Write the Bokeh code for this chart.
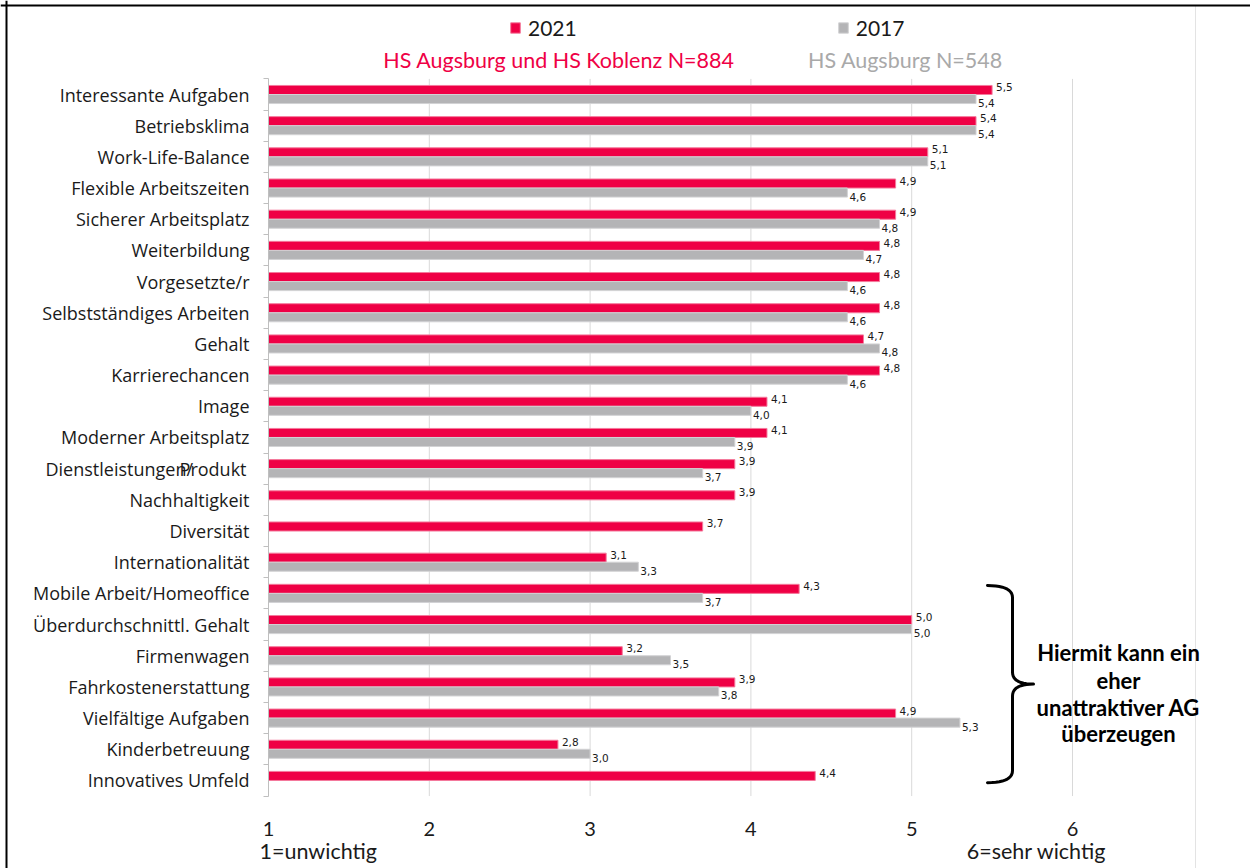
import numpy as np
from bokeh.plotting import figure
from bokeh.models import (Range1d, LinearAxis, FixedTicker, ColumnDataSource,
                          Legend, LegendItem, Span)
from bokeh.core.properties import value
from bokeh.embed import file_html
from bokeh.resources import INLINE

# ---- data -------------------------------------------------------------
categories = [
    "Interessante Aufgaben", "Betriebsklima", "Work-Life-Balance",
    "Flexible Arbeitszeiten", "Sicherer Arbeitsplatz", "Weiterbildung",
    "Vorgesetzte/r", "Selbstständiges Arbeiten", "Gehalt", "Karrierechancen",
    "Image", "Moderner Arbeitsplatz", "Dienstleistungen/Produkt",
    "Nachhaltigkeit", "Diversität", "Internationalität",
    "Mobile Arbeit/Homeoffice", "Überdurchschnittl. Gehalt", "Firmenwagen",
    "Fahrkostenerstattung", "Vielfältige Aufgaben", "Kinderbetreuung",
    "Innovatives Umfeld",
]
values_2021 = [5.5, 5.4, 5.1, 4.9, 4.9, 4.8, 4.8, 4.8, 4.7, 4.8, 4.1, 4.1,
               3.9, 3.9, 3.7, 3.1, 4.3, 5.0, 3.2, 3.9, 4.9, 2.8, 4.4]
values_2017 = [5.4, 5.4, 5.1, 4.6, 4.8, 4.7, 4.6, 4.6, 4.8, 4.6, 4.0, 3.9,
               3.7, None, None, 3.3, 3.7, 5.0, 3.5, 3.8, 5.3, 3.0, None]
tick_values = [1, 2, 3, 4, 5, 6]
series_labels = ["2021", "2017"]
subtitle_2021 = "HS Augsburg und HS Koblenz N=884"
subtitle_2017 = "HS Augsburg N=548"
scale_low = "1=unwichtig"
scale_high = "6=sehr wichtig"
note_lines = ["Hiermit kann ein", "eher", "unattraktiver AG", "überzeugen"]
bracket_first = "Mobile Arbeit/Homeoffice"
bracket_last = "Innovatives Umfeld"

# ---- styling ----------------------------------------------------------
RED = "#EF0045"
RED_EDGE = "#F47A9C"
GREY = "#B4B4B6"
GREY_EDGE = "#D2D2D4"
GRID = "#D9D9D9"
TXT = "#1A1A1A"
CAT_FONT_SIZE = "18px"
W, H = 1250, 868

# page layout: x value 1 sits 268 px from the left, one unit is 160.8 px;
# the first category row is centred 94 px from the top, rows are 31.18 px apart
X_ORIGIN_PX, X_UNIT_PX = 268.0, 160.8
Y_ORIGIN_PX, Y_UNIT_PX = 94.0, 31.18


def xd(px):
    return 1 + (px - X_ORIGIN_PX) / X_UNIT_PX


def yd(px):
    return (px - Y_ORIGIN_PX) / Y_UNIT_PX


n = len(categories)
idx = np.arange(n)
BAR_H = 0.29

p = figure(width=W, height=H,
           x_range=Range1d(xd(0), xd(W)), y_range=Range1d(yd(H), yd(0)),
           x_axis_type=None, y_axis_type=None,
           output_backend="svg", toolbar_location=None, min_border=0)
p.outline_line_color = None
p.background_fill_color = "white"
p.border_fill_color = "white"

# light page separator on the right (behind everything else)
p.segment(x0=[xd(1195)], y0=[yd(5)], x1=[xd(1195)], y1=[yd(H)],
          line_color="#E3E3E3", line_width=1)

# vertical grid lines, limited to the category block
p.segment(x0=tick_values, y0=-0.5, x1=tick_values, y1=n - 0.5,
          line_color=GRID, line_width=1)

# bars
src21 = ColumnDataSource(dict(y=(idx - BAR_H / 2).tolist(), v=values_2021,
                              lab=[f"{v:.1f}".replace(".", ",") for v in values_2021]))
keep = [i for i, v in enumerate(values_2017) if v is not None]
src17 = ColumnDataSource(dict(y=[i + BAR_H / 2 for i in keep],
                              v=[values_2017[i] for i in keep],
                              lab=[f"{values_2017[i]:.1f}".replace(".", ",") for i in keep]))

r21 = p.hbar(y="y", left=1, right="v", height=BAR_H, source=src21,
             fill_color=RED, line_color=RED_EDGE, line_width=1)
r17 = p.hbar(y="y", left=1, right="v", height=BAR_H, source=src17,
             fill_color=GREY, line_color=GREY_EDGE, line_width=1)

# value labels
p.text(x="v", y="y", text="lab", source=src21, x_offset=4, y_offset=-3,
       text_font=value("DejaVu Sans"), text_font_size="10.5px",
       text_color=TXT, text_align="left", text_baseline="middle")
p.text(x="v", y="y", text="lab", source=src17, x_offset=2, y_offset=4,
       text_font=value("DejaVu Sans"), text_font_size="10.5px",
       text_color=TXT, text_align="left", text_baseline="middle")

# category axis on the left
special = categories.index("Dienstleistungen/Produkt")
overrides = {int(i): (c if i != special else "") for i, c in enumerate(categories)}
yaxis = LinearAxis(fixed_location=1,
                   ticker=FixedTicker(ticks=[int(i) for i in idx],
                                      minor_ticks=[float(i) - 0.5 for i in range(n + 1)]),
                   major_label_overrides=overrides, bounds=(-0.5, n - 0.5))
yaxis.axis_line_color = "#BFBFBF"
yaxis.major_tick_line_color = None
yaxis.minor_tick_line_color = "#BFBFBF"
yaxis.minor_tick_in = 0
yaxis.minor_tick_out = 5
yaxis.major_label_standoff = 13
yaxis.major_label_text_font = "Open Sans"
yaxis.major_label_text_font_size = CAT_FONT_SIZE
yaxis.major_label_text_color = TXT
p.add_layout(yaxis, "left")

# the two-line label of the product row, drawn slightly overlapped
p.text(x=[1], y=[special], text=["Dienstleistungen/"], x_offset=45 - X_ORIGIN_PX,
       text_font=value("Open Sans"), text_font_size=CAT_FONT_SIZE, text_color=TXT,
       text_align="left", text_baseline="middle")
p.text(x=[1], y=[special], text=["Produkt"], x_offset=246 - X_ORIGIN_PX,
       text_font=value("Open Sans"), text_font_size=CAT_FONT_SIZE, text_color=TXT,
       text_align="right", text_baseline="middle")

# value axis at the bottom
xaxis = LinearAxis(fixed_location=n - 0.5, ticker=FixedTicker(ticks=tick_values))
xaxis.axis_line_color = None
xaxis.major_tick_line_color = None
xaxis.minor_tick_line_color = None
xaxis.major_label_standoff = 20
xaxis.major_label_text_font = "Lato"
xaxis.major_label_text_font_size = "20px"
xaxis.major_label_text_color = TXT
p.add_layout(xaxis, "below")

# scale meaning under the axis
p.text(x=[tick_values[0]], y=[yd(850)], text=[scale_low], x_offset=-9,
       text_font=value("Lato"), text_font_size="21.5px", text_color=TXT,
       text_align="left", text_baseline="middle")
p.text(x=[tick_values[-1]], y=[yd(850)], text=[scale_high], x_offset=-36,
       text_font=value("Lato"), text_font_size="21.5px", text_color=TXT,
       text_align="center", text_baseline="middle")

# legend on top
legend = Legend(items=[LegendItem(label=series_labels[0], renderers=[r21]),
                       LegendItem(label=series_labels[1], renderers=[r17])],
                orientation="horizontal", location=(509, H - 40),
                spacing=260, padding=0, margin=0, glyph_width=12, glyph_height=13,
                label_standoff=7, label_height=21,
                label_text_font="Lato", label_text_font_size="21px",
                label_text_color=TXT, border_line_color=None,
                background_fill_alpha=0)
p.add_layout(legend)

# sample descriptions under the legend
p.text(x=[xd(558.5)], y=[yd(59)], text=[subtitle_2021], text_font=value("Lato"),
       text_font_size="21.5px", text_color=RED, text_align="center",
       text_baseline="middle")
p.text(x=[xd(905)], y=[yd(59)], text=[subtitle_2017], text_font=value("Lato"),
       text_font_size="21.5px", text_color="#A9A9A9", text_align="center",
       text_baseline="middle")

# curly bracket grouping the last rows
i0 = categories.index(bracket_first)
i1 = categories.index(bracket_last)
top_px = Y_ORIGIN_PX + (i0 - 0.25) * Y_UNIT_PX
bot_px = Y_ORIGIN_PX + (i1 + 0.07) * Y_UNIT_PX
mid_px = (top_px + bot_px) / 2
xl, xs, xt = 987.0, 1012.0, 1033.0
r = 12.0


def qbez(a, c, b, k=12):
    t = np.linspace(0, 1, k)
    pts = [(1 - t) ** 2 * a[j] + 2 * (1 - t) * t * c[j] + t ** 2 * b[j] for j in range(2)]
    return pts[0].tolist(), pts[1].tolist()


segs = [
    qbez((xl, top_px), (xs, top_px), (xs, top_px + r)),
    qbez((xs, mid_px - r), (xs, mid_px), (xt, mid_px)),
    qbez((xt, mid_px), (xs, mid_px), (xs, mid_px + r)),
    qbez((xs, bot_px - r), (xs, bot_px), (xl, bot_px)),
]
bx, by = [], []
for sx, sy in segs:
    bx += sx
    by += sy
p.line(x=[xd(v) for v in bx], y=[yd(v) for v in by], line_color="black",
       line_width=3, line_join="round", line_cap="round")

# note next to the bracket
line_px = [652, 680, 707, 733]
p.text(x=[xd(1118)] * len(note_lines), y=[yd(v) for v in line_px], text=note_lines,
       text_font=value("Lato"), text_font_style="bold", text_font_size="22px",
       text_color="black", text_align="center", text_baseline="middle")

# page frame
p.add_layout(Span(location=yd(5), dimension="width", line_color="black", line_width=2))
p.add_layout(Span(location=xd(6), dimension="height", line_color="black", line_width=2))

open("out.html", "w").write(file_html(p, INLINE))
